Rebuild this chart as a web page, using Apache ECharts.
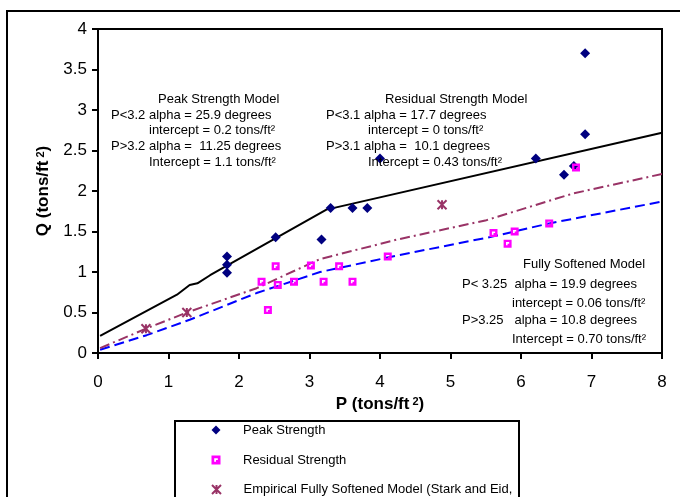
<!DOCTYPE html>
<html><head><meta charset="utf-8">
<script src="https://cdn.jsdelivr.net/npm/echarts@6/dist/echarts.min.js"></script>
<style>html,body{margin:0;padding:0;background:#fff}#c{width:680px;height:497px}</style>
</head><body><div id="c"></div>
<script>
// ---- data ----
const peakStrength = [[1.83,1.19],[1.83,1.09],[1.83,0.99],[2.52,1.43],[3.17,1.40],[3.30,1.79],[3.61,1.79],[3.82,1.79],[4.00,2.40],[6.21,2.40],[6.61,2.20],[6.75,2.31],[6.91,2.70],[6.91,3.70]];
const residualStrength = [[2.32,0.88],[2.41,0.53],[2.52,1.07],[2.55,0.84],[2.78,0.88],[3.02,1.08],[3.20,0.88],[3.42,1.07],[3.61,0.88],[4.11,1.19],[5.61,1.48],[5.81,1.35],[5.91,1.50],[6.40,1.60],[6.78,2.29]];
const empiricalSoftened = [[0.68,0.30],[1.26,0.50],[4.88,1.83]];
const peakModel = [[0.03,0.21],[1.12,0.72],[1.30,0.84],[1.41,0.86],[1.59,0.96],[3.24,1.77],[8,2.72]];
const residualModel = [[0.03,0.04],[0.69,0.22],[1.30,0.41],[2.25,0.74],[3.15,1.00],[4.28,1.21],[5.61,1.44],[6.40,1.60],[8,1.87]];
const softenedModel = [[0.03,0.06],[0.68,0.30],[1.26,0.50],[2.25,0.80],[3.15,1.16],[4.24,1.40],[5.51,1.64],[6.74,1.97],[8,2.21]];
const seriesNames = ['Peak Strength','Residual Strength','Empirical Fully Softened Model (Stark and Eid, 1994)','Peak Strength Model','Residual Strength Model','Fully Softened Model'];
const peakNote = ['Peak Strength Model','P<3.2 alpha = 25.9 degrees','intercept = 0.2 tons/ft²','P>3.2 alpha =  11.25 degrees','Intercept = 1.1 tons/ft²'];
const residualNote = ['Residual Strength Model','P<3.1 alpha = 17.7 degrees','intercept = 0 tons/ft²','P>3.1 alpha =  10.1 degrees','Intercept = 0.43 tons/ft²'];
const softenedNote = ['Fully Softened Model','P< 3.25  alpha = 19.9 degrees','intercept = 0.06 tons/ft²','P>3.25   alpha = 10.8 degrees','Intercept = 0.70 tons/ft²'];
const xTitle = 'P (tons/ft{s|2})';
const yTitle = 'Q (tons/ft{s|2})';

const FF = '"Liberation Sans", Arial, sans-serif';
const chart = echarts.init(document.getElementById('c'), null, {renderer: 'canvas'});

function noteTexts(lines, xs, ys) {
  return lines.map((t, i) => ({
    type: 'text', x: xs[i], y: ys[i], z: 10,
    style: {text: t, fontSize: 13, fontFamily: FF, fill: '#000', verticalAlign: 'middle'}
  }));
}

const legendBase = {
  orient: 'vertical', left: 211.5, padding: 0, itemGap: 0,
  itemWidth: 9, itemHeight: 9,
  textStyle: {fontSize: 13, fontFamily: FF, color: '#000', lineHeight: 15, padding: [0, 0, 0, 17.5]}
};

const option = {
  animation: false,
  backgroundColor: '#fff',
  grid: {left: 98, right: 18, top: 29, bottom: 144, show: true, borderColor: '#000', borderWidth: 2},
  xAxis: {
    type: 'value', min: 0, max: 8, interval: 1,
    axisLine: {lineStyle: {color: '#000', width: 2}},
    axisTick: {length: 6, lineStyle: {color: '#000', width: 2}},
    axisLabel: {fontSize: 17, fontFamily: FF, color: '#000', margin: 21},
    splitLine: {show: false},
    name: xTitle, nameLocation: 'middle', nameGap: 43,
    nameTextStyle: {fontSize: 17, fontWeight: 'bold', fontFamily: FF, color: '#000',
      rich: {s: {fontSize: 11, fontWeight: 'bold', fontFamily: FF, color: '#000', verticalAlign: 'top', padding: [0,0,0,3]}}}
  },
  yAxis: {
    type: 'value', min: 0, max: 4, interval: 0.5,
    axisLine: {lineStyle: {color: '#000', width: 2}},
    axisTick: {length: 6, lineStyle: {color: '#000', width: 2}},
    axisLabel: {fontSize: 17, fontFamily: FF, color: '#000', margin: 11},
    splitLine: {show: false},
    name: yTitle, nameLocation: 'middle', nameGap: 46, nameRotate: 90,
    nameTextStyle: {fontSize: 17, fontWeight: 'bold', fontFamily: FF, color: '#000',
      rich: {s: {fontSize: 11, fontWeight: 'bold', fontFamily: FF, color: '#000', verticalAlign: 'top', padding: [0,0,0,3]}}}
  },
  legend: [
    Object.assign({}, legendBase, {top: 422.5, data: [seriesNames[0]]}),
    Object.assign({}, legendBase, {top: 452.5, data: [seriesNames[1]]}),
    Object.assign({}, legendBase, {top: 467, left: 209.5, data: [seriesNames[2]],
      formatter: n => ' \n' + n.replace(', ', ',\n')})
  ],
  graphic: [
    {type: 'rect', shape: {x: 7, y: 11, width: 720, height: 620}, style: {fill: 'none', stroke: '#000', lineWidth: 2}, z: 10},
    {type: 'rect', shape: {x: 175, y: 421, width: 344, height: 140}, style: {fill: 'none', stroke: '#000', lineWidth: 2}, z: 10}
  ].concat(
    noteTexts(peakNote, [158,111,149,111,149], [99,115,130,146,162]),
    noteTexts(residualNote, [385,326,368,326,368], [99,115,130,146,162]),
    noteTexts(softenedNote, [523,462,512,462,512], [264,284,303,320,339])
  ),
  series: [
    {name: seriesNames[3], type: 'line', data: peakModel, showSymbol: false, z: 2,
      lineStyle: {color: '#000', width: 2}, itemStyle: {color: '#000'}},
    {name: seriesNames[4], type: 'line', data: residualModel, showSymbol: false, z: 2,
      lineStyle: {color: '#0000ff', width: 2, type: [10, 5]}, itemStyle: {color: '#0000ff'}},
    {name: seriesNames[5], type: 'line', data: softenedModel, showSymbol: false, z: 2,
      lineStyle: {color: '#993366', width: 2, type: [10, 4, 2, 4]}, itemStyle: {color: '#993366'}},
    {name: seriesNames[0], type: 'scatter', data: peakStrength, symbol: 'diamond', symbolSize: [10, 10], z: 5,
      itemStyle: {color: '#000080', opacity: 1}},
    {name: seriesNames[1], type: 'scatter', data: residualStrength, z: 6,
      symbol: 'path://M0,0H10V10H0Z M3,3V7H5V5H7V3Z', symbolSize: 8,
      itemStyle: {color: '#ff00ff', opacity: 1}},
    {name: seriesNames[2], type: 'scatter', data: empiricalSoftened, z: 6,
      symbol: 'path://M0,0L10,10M10,0L0,10M5,0L5,10', symbolSize: 9,
      itemStyle: {color: 'none', borderColor: '#993366', borderWidth: 2, opacity: 1}}
  ]
};
chart.setOption(option);
</script></body></html>
